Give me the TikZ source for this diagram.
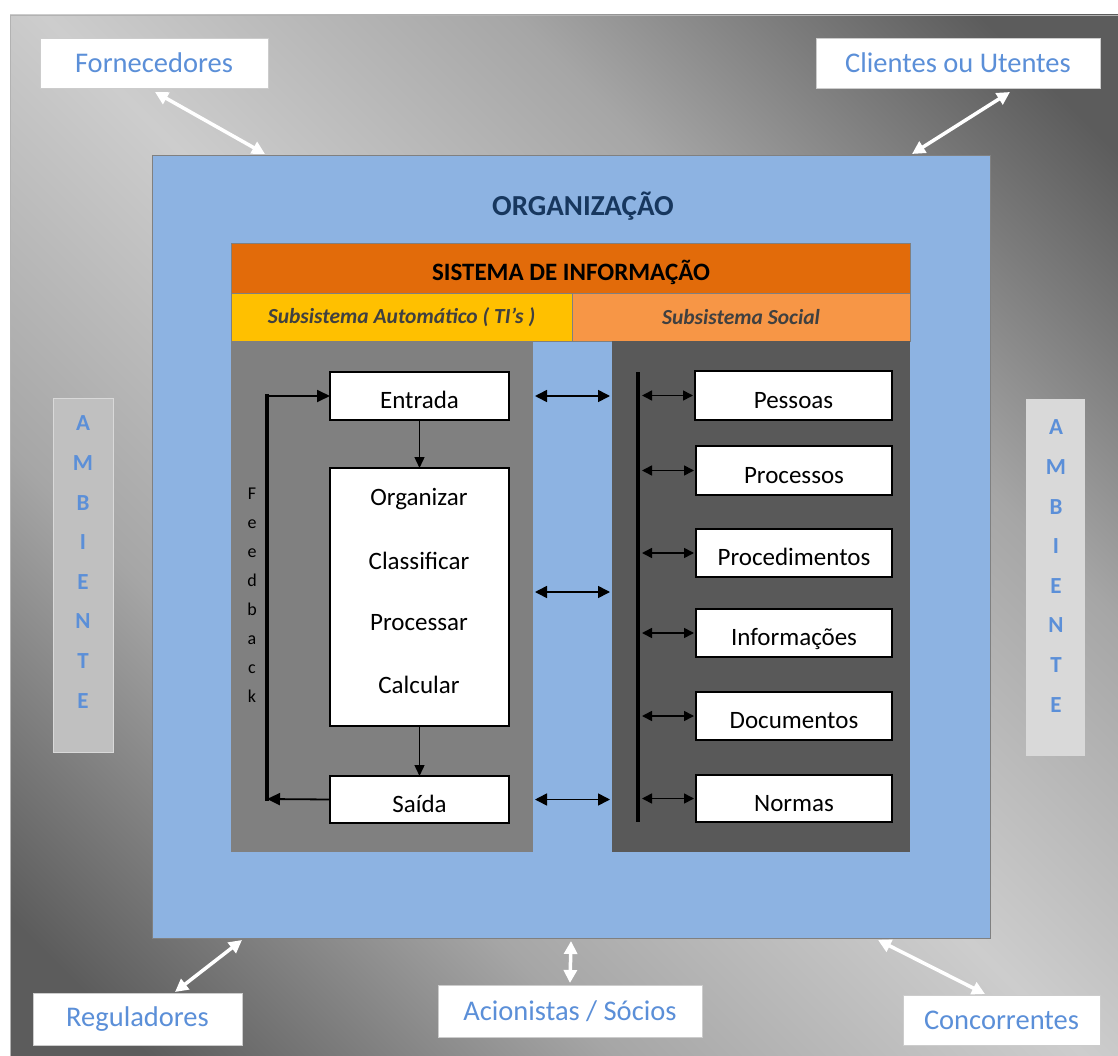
\documentclass[tikz,border=0pt]{standalone}
\usepackage{fontspec}
\setmainfont{Carlito}
\usetikzlibrary{arrows.meta,calc}

\definecolor{orgblue}{HTML}{8DB3E2}
\definecolor{orgtext}{HTML}{17375E}
\definecolor{lblblue}{HTML}{5B8FD8}
\definecolor{sisorange}{HTML}{E26B0A}
\definecolor{subyellow}{HTML}{FFC000}
\definecolor{suborange}{HTML}{F79646}
\definecolor{subtext}{HTML}{404040}
\definecolor{panelmid}{HTML}{808080}
\definecolor{paneldark}{HTML}{595959}
\definecolor{bgdark}{HTML}{5C5C5C}
\definecolor{bgmid}{HTML}{7C7C7C}
\definecolor{bgsoft}{HTML}{A6A6A6}
\definecolor{bglight}{HTML}{CDCDCD}
\definecolor{ambleft}{HTML}{C0C0C0}
\definecolor{ambright}{HTML}{D9D9D9}

% dark corners, light diagonal band
\pgfdeclareverticalshading{envshade}{100bp}{color(0bp)=(bgdark); color(19bp)=(bgdark);
  color(25.8bp)=(bgmid); color(34.5bp)=(bgsoft); color(50bp)=(bglight);
  color(65.5bp)=(bgsoft); color(74.2bp)=(bgmid); color(81bp)=(bgdark); color(100bp)=(bgdark)}

\tikzset{
  rect/.style={rectangle, inner sep=0pt, outer sep=0pt, anchor=north west},
  outlbl/.style={rect, fill=white, draw=gray!40, line width=0.6pt, text=lblblue,
    font=\fontsize{28.5}{32}\selectfont},
  whitebox/.style={rect, fill=white, draw=black, line width=1.4pt,
    font=\fontsize{25}{29}\selectfont, text height=25pt, text depth=0pt},
  subhead/.style={rect, draw=gray, line width=0.8pt, text=subtext,
    font=\itshape\bfseries\fontsize{21.5}{25}\selectfont},
  ambbox/.style={rect, draw=gray!30, line width=0.6pt},
  ambtext/.style={text=lblblue, align=center,
    font=\bfseries\fontsize{23}{39.6}\selectfont},
  warrow/.style={draw=white, line width=3.5pt,
    {Triangle[length=13pt,width=13pt]}-{Triangle[length=13pt,width=13pt]}},
  flow/.style={draw=black, line width=1.4pt, -{Triangle[length=11pt,width=10pt]}},
  dbl/.style={draw=black, line width=1.6pt,
    {Triangle[length=12pt,width=12pt]}-{Triangle[length=12pt,width=12pt]}},
  sdbl/.style={draw=black, line width=1.6pt,
    {Triangle[length=10pt,width=10pt]}-{Triangle[length=10pt,width=10pt]}},
  proctext/.style={font=\fontsize{25}{29}\selectfont},
}

\begin{document}
\begin{tikzpicture}[x=1pt,y=-1pt]
  \useasboundingbox (0,0) rectangle (1118,1056);

  % environment background with diagonal gradient
  \shade[shading=envshade, shading angle=-45] (10,15) rectangle (1118,1056);
  \draw[gray!60, line width=0.8pt] (10,15) rectangle (1118,1056);

  % stakeholders
  \node[outlbl, minimum width=228pt, minimum height=50pt] (forn) at (40,38) {Fornecedores};
  \node[outlbl, minimum width=284pt, minimum height=50pt] (cli) at (816,38) {Clientes ou Utentes};
  \node[outlbl, minimum width=209pt, minimum height=52pt] (reg) at (33,993) {Reguladores};
  \node[outlbl, minimum width=264pt, minimum height=52pt] (acio) at (438,985) {Acionistas / Sócios};
  \node[outlbl, minimum width=197pt, minimum height=50pt] (conc) at (903,995) {Concorrentes};

  % environment side labels
  \node[ambbox, fill=ambleft, minimum width=60pt, minimum height=354pt] (ambl) at (53,398) {};
  \node[ambtext] (ambltxt) at (83,562) {A\\M\\B\\I\\E\\N\\T\\E};
  \node[ambbox, fill=ambright, minimum width=58pt, minimum height=356pt] (ambr) at (1026,399) {};
  \node[ambtext] (ambrtxt) at (1056,566) {A\\M\\B\\I\\E\\N\\T\\E};

  % organisation
  \node[rect, fill=orgblue, draw=gray, line width=0.8pt,
    minimum width=838pt, minimum height=783pt] (org) at (152,155) {};
  \node[text=orgtext, font=\bfseries\fontsize{29}{34}\selectfont] (orgtxt) at (583,206) {ORGANIZAÇÃO};

  % information system
  \node[rect, fill=sisorange, draw=gray, line width=0.8pt, minimum width=679pt, minimum height=50pt] (si) at (231,243) {};
  \node[font=\bfseries\fontsize{25}{29}\selectfont] (sitxt) at (571,272) {SISTEMA DE INFORMAÇÃO};
  \node[subhead, fill=subyellow, minimum width=341pt, minimum height=48pt] (auto) at (231,293)
    {Subsistema Automático ( TI’s )};
  \node[subhead, fill=suborange, minimum width=338pt, minimum height=48pt] (social) at (572,293)
    {Subsistema Social};
  \node[rect, fill=panelmid, minimum width=302pt, minimum height=511pt] (lp) at (231,341) {};
  \node[rect, fill=paneldark, minimum width=298pt, minimum height=511pt] (rp) at (612,341) {};

  % automatic subsystem: input, processing, output
  \node[whitebox, minimum width=179pt, minimum height=48pt] (ent) at (330,372) {Entrada};
  \node[whitebox, minimum width=179pt, minimum height=258pt] (proc) at (330,468) {};
  \node[proctext] (p1) at (419,499) {Organizar};
  \node[proctext] (p2) at (419,561) {Classificar};
  \node[proctext] (p3) at (419,623) {Processar};
  \node[proctext] (p4) at (419,685) {Calcular};
  \node[whitebox, minimum width=179pt, minimum height=47pt] (sai) at (330,776) {Saída};

  \draw[flow] (ent.south) -- (proc.north);
  \draw[flow] (proc.south) -- (sai.north);

  % feedback loop
  \coordinate (fbb) at (267,799);
  \coordinate (fbt) at (267,396);
  \draw[flow, line width=1.8pt, -{Triangle[length=13pt,width=12pt]}] (sai.west) -- (fbb);
  \draw[line width=3.5pt] ($(fbb)+(0,1.7)$) -- ($(fbt)+(0,-1.7)$);
  \draw[flow, line width=1.8pt, -{Triangle[length=13pt,width=12pt]}] (fbt) -- (ent.west |- fbt);
  \node[align=center, font=\fontsize{18}{29}\selectfont] (fbtxt) at (252,595)
    {F\\e\\e\\d\\b\\a\\c\\k};

  % links between the two subsystems
  \draw[dbl] ($(lp.east |- ent)+(2,0)$) -- ($(rp.west |- ent)+(-2,0)$);
  \draw[dbl] ($(lp.east |- 0,592)+(2,0)$) -- ($(rp.west |- 0,592)+(-2,0)$);
  \draw[dbl] ($(lp.east |- sai)+(2,0)$) -- ($(rp.west |- sai)+(-2,0)$);

  % social subsystem
  \node[whitebox, minimum width=197pt, minimum height=49pt] (pes) at (695,371) {Pessoas};
  \node[whitebox, minimum width=196pt, minimum height=49pt] (prc) at (696,446) {Processos};
  \node[whitebox, minimum width=196pt, minimum height=48pt] (prd) at (696,529) {Procedimentos};
  \node[whitebox, minimum width=196pt, minimum height=48pt] (inf) at (696,609) {Informações};
  \node[whitebox, minimum width=196pt, minimum height=48pt] (doc) at (696,692) {Documentos};
  \node[whitebox, minimum width=196pt, minimum height=47pt] (nor) at (696,775) {Normas};

  \coordinate (bart) at (638,372);
  \coordinate (barb) at (638,822);
  \draw[line width=3.5pt] (bart) -- (barb);
  \foreach \b in {pes,prc,prd,inf,doc,nor}
    \draw[sdbl] ($(bart |- \b)+(4,0)$) -- ($(\b.west)+(-2,0)$);

  % exchanges with the environment
  \draw[warrow] ($(forn.south west)+(115,4)$) -- ($(org.north west)+(113,-1)$);
  \draw[warrow] ($(cli.south west)+(194,4)$) -- ($(org.north west)+(760,-1)$);
  \draw[warrow] ($(org.south west)+(90,2)$) -- ($(reg.north west)+(142,-1)$);
  \draw[warrow] ($(org.south)+(0,3)$) -- ($(acio.north)+(0,-2)$);
  \draw[warrow] ($(org.south west)+(726,2)$) -- ($(conc.north west)+(82,-1)$);
\end{tikzpicture}
\end{document}
